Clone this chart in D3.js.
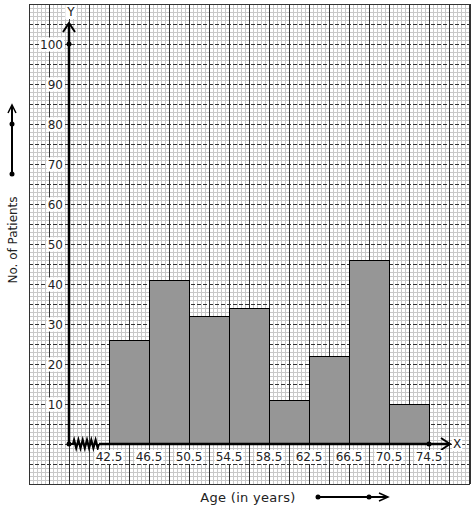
<!DOCTYPE html>
<html><head><meta charset="utf-8">
<script src="https://cdn.jsdelivr.net/npm/d3@7"></script>
<style>body{margin:0;background:#fff}svg{display:block}text{font-family:"DejaVu Sans",sans-serif;font-size:12px;fill:#222}</style>
</head><body><svg id="c" width="474" height="510"></svg>
<script>
const classEdges = [42.5, 46.5, 50.5, 54.5, 58.5, 62.5, 66.5, 70.5, 74.5];
const patients = [26, 41, 32, 34, 11, 22, 46, 10];
const yTicks = [10, 20, 30, 40, 50, 60, 70, 80, 90, 100];
const xTickLabels = ["42.5", "46.5", "50.5", "54.5", "58.5", "62.5", "66.5", "70.5", "74.5"];

const svg = d3.select("#c");
const x = d3.scaleLinear().domain([38.5, 74.5]).range([69, 429]);
const y = d3.scaleLinear().domain([0, 100]).range([444, 44]);
const gx0 = 29, gx1 = 470, gy0 = 4, gy1 = 484;

// grid
const g = svg.append("g").attr("shape-rendering", "crispEdges");
for (let px = gx0; px <= gx1; px += 4) {
  const major = (px - gx0) % 20 === 0;
  if (!major) g.append("line").attr("x1", px + .5).attr("x2", px + .5).attr("y1", gy0).attr("y2", gy1).attr("stroke", "#c8c8c8");
}
for (let py = gy0; py <= gy1; py += 4) {
  const major = (py - gy0) % 20 === 0;
  if (!major) g.append("line").attr("y1", py + .5).attr("y2", py + .5).attr("x1", gx0).attr("x2", gx1).attr("stroke", "#c8c8c8");
}
for (let px = gx0; px <= gx1; px += 20) {
  g.append("line").attr("x1", px + .5).attr("x2", px + .5).attr("y1", gy0).attr("y2", gy1).attr("stroke", "#333");
}
for (let py = gy0; py <= gy1; py += 20) {
  const edge = py === gy0 || py === gy1;
  g.append("line").attr("y1", py + .5).attr("y2", py + .5).attr("x1", gx0).attr("x2", gx1)
    .attr("stroke", "#333").attr("stroke-dasharray", edge ? null : "4,2");
}
g.append("line").attr("x1", gx1 + .5).attr("x2", gx1 + .5).attr("y1", gy0).attr("y2", gy1).attr("stroke", "#333");

// bars
svg.append("g").selectAll("rect").data(patients).join("rect")
  .attr("x", (d, i) => x(classEdges[i]) + .5)
  .attr("y", d => y(d) + .5)
  .attr("width", (d, i) => x(classEdges[i + 1]) - x(classEdges[i]))
  .attr("height", d => y(0) - y(d))
  .attr("fill", "#969696").attr("stroke", "#000").attr("stroke-width", 1);

// axes
const ax = svg.append("g").attr("stroke", "#000").attr("fill", "none");
ax.append("line").attr("x1", 69).attr("x2", 69).attr("y1", y(0)).attr("y2", 23).attr("stroke-width", 2.5);
ax.append("path").attr("d", `M63,32 L69,23 L75,32`).attr("stroke-width", 2);
// x axis with zigzag
let zz = `M69,444 L73,444`;
for (let i = 0; i < 6; i++) { const xs = 73 + i * 4.3; zz += ` L${xs + 1.1},440 L${xs + 3.2},448 L${xs + 4.3},444`; }
ax.append("path").attr("d", zz).attr("stroke-width", 2.2);
ax.append("line").attr("x1", 99).attr("x2", 450).attr("y1", 444).attr("y2", 444).attr("stroke-width", 2.5);
ax.append("path").attr("d", `M441,438 L450,444 L441,450`).attr("stroke-width", 2);

svg.append("circle").attr("cx", 69).attr("cy", y(100)).attr("r", 2.5).attr("fill", "#000");
svg.append("circle").attr("cx", 69).attr("cy", y(0)).attr("r", 2.5).attr("fill", "#000");
svg.append("circle").attr("cx", x(74.5)).attr("cy", y(0)).attr("r", 2.5).attr("fill", "#000");

function labelBg(sel) {
  sel.each(function () {
    const b = this.getBBox();
    d3.select(this.parentNode).insert("rect", () => this)
      .attr("x", b.x - 1).attr("y", b.y).attr("width", b.width + 2).attr("height", b.height).attr("fill", "#fff");
  });
}
const yl = svg.append("g");
yl.selectAll("text").data(yTicks).join("text")
  .attr("x", 63).attr("y", d => y(d) + 4.5).attr("text-anchor", "end").text(d => d).call(labelBg);
const xl = svg.append("g");
xl.selectAll("text").data(xTickLabels).join("text")
  .attr("x", d => x(+d)).attr("y", 461).attr("text-anchor", "middle").text(d => d).call(labelBg);

const al = svg.append("g");
al.append("text").attr("x", 71).attr("y", 16).attr("text-anchor", "middle").text("Y").call(labelBg);
al.append("text").attr("x", 453).attr("y", 448).text("X").call(labelBg);

// titles
svg.append("text").attr("transform", "translate(17,240) rotate(-90)").attr("text-anchor", "middle").text("No. of Patients");
svg.append("text").attr("x", 248).attr("y", 502).attr("text-anchor", "middle").style("font-size", "13px").style("letter-spacing", "0.3px").text("Age (in years)");

// decorative arrows
const da = svg.append("g").attr("stroke", "#000").attr("fill", "none").attr("stroke-width", 2);
da.append("line").attr("x1", 12).attr("x2", 12).attr("y1", 174).attr("y2", 106);
da.append("path").attr("d", "M8,113 L12,105 L16,113").attr("stroke-width", 1.5);
svg.append("circle").attr("cx", 12).attr("cy", 174).attr("r", 2.5);
svg.append("circle").attr("cx", 12).attr("cy", 124).attr("r", 2.5);
da.append("line").attr("x1", 318).attr("x2", 387).attr("y1", 497).attr("y2", 497);
da.append("path").attr("d", "M379,493 L388,497 L379,501").attr("stroke-width", 1.5);
svg.append("circle").attr("cx", 318).attr("cy", 497).attr("r", 2.5);
svg.append("circle").attr("cx", 369).attr("cy", 497).attr("r", 2.5);
</script></body></html>
